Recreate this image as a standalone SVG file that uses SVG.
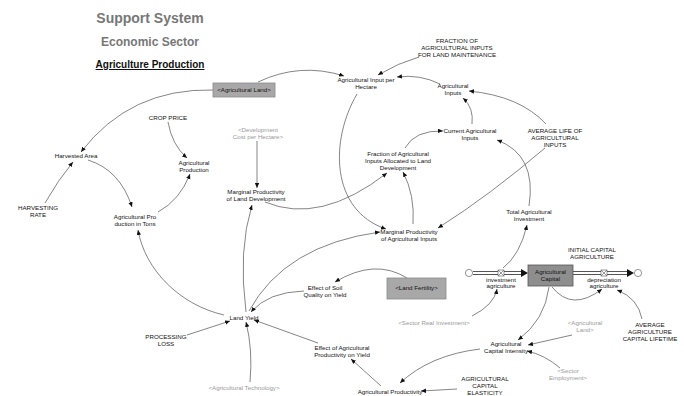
<svg xmlns="http://www.w3.org/2000/svg" width="684" height="396" viewBox="0 0 684 396">
<style>
text{font-family:"Liberation Sans",Arial,sans-serif;font-size:6.2px;fill:#111;text-anchor:middle}
.g text,text.g{fill:#999}
.t1{font-size:14px;font-weight:bold;fill:#777}
.t2{font-size:12px;font-weight:bold;fill:#777}
.t3{font-size:10px;font-weight:bold;fill:#111;text-decoration:underline}
.c path{fill:none;stroke:#666;stroke-width:0.8;marker-end:url(#ah)}
.box{fill:#a8a8a8;stroke:#8a8a8a;stroke-width:0.8}
.pipeo{stroke:#555;stroke-width:4.2;fill:none}
.pipei{stroke:#fff;stroke-width:2;fill:none}
</style>
<defs>
<marker id="ah" markerUnits="userSpaceOnUse" markerWidth="6" markerHeight="5" refX="5" refY="2.2" orient="auto">
<path d="M0,0 L5,2.2 L0,4.4 z" fill="#111"/>
</marker>
</defs>
<rect width="684" height="396" fill="#fff"/>

<g id="titles">
<text class="t1" x="150" y="23">Support System</text>
<text class="t2" x="150" y="46">Economic Sector</text>
<text class="t3" x="150" y="68">Agriculture Production</text>
</g>

<g id="connectors" class="c">
<path d="M258,82 Q300,62 344,76"/>
<path d="M213,90 Q130,88 81,152"/>
<path d="M419,57 Q398,63 378,75"/>
<path d="M440,84 Q420,74 397,77"/>
<path d="M472,124 Q474,108 463,98"/>
<path d="M546,124 Q520,96 469,91"/>
<path d="M545,148 Q490,195 438,228"/>
<path d="M529,206 Q537,155 497,140"/>
<path d="M503,268 Q520,255 527,225"/>
<path d="M405,148 Q415,130 443,131"/>
<path d="M357,94 C330,140 330,210 386,229"/>
<path d="M265,202 Q320,225 387,173"/>
<path d="M413,224 Q415,195 403,172"/>
<path d="M257,141 L257,188"/>
<path d="M246,312 Q238,250 252,205"/>
<path d="M249,311 Q285,245 380,232"/>
<path d="M407,278 Q375,258 335,282"/>
<path d="M304,291 Q268,292 251,312"/>
<path d="M224,315 C180,305 145,270 138,230"/>
<path d="M187,335 L230,321"/>
<path d="M318,343 L254,320"/>
<path d="M250,382 Q253,350 246,322"/>
<path d="M381,386 L351,359"/>
<path d="M480,349 Q430,355 400,383"/>
<path d="M457,389 L421,391"/>
<path d="M549,287 Q545,320 518,340"/>
<path d="M572,335 L528,345"/>
<path d="M560,368 Q545,355 527,351"/>
<path d="M552,287 Q572,312 602,289"/>
<path d="M642,319 Q638,298 617,290"/>
<path d="M472,316 Q494,305 497,289"/>
<path d="M168,122 Q172,145 187,158"/>
<path d="M88,160 Q120,170 132,207"/>
<path d="M45,203 Q58,180 73,162"/>
<path d="M158,212 Q180,200 190,174"/>
</g>

<g id="flows">
<path class="pipeo" d="M473,273 L522,273"/>
<path class="pipei" d="M473,273 L522,273"/>
<path d="M521,269 L528,273 L521,277 z" fill="#111"/>
<path class="pipeo" d="M573,273 L628,273"/>
<path class="pipei" d="M573,273 L628,273"/>
<path d="M627,269 L634,273 L627,277 z" fill="#111"/>
<circle cx="469" cy="273" r="3.6" fill="#fff" stroke="#777" stroke-width="0.8"/>
<circle cx="638" cy="273" r="3.6" fill="#fff" stroke="#777" stroke-width="0.8"/>
</g>

<g id="n-agland-ghost"><rect class="box" x="213" y="83" width="62" height="14"/><text x="244" y="92">&lt;Agricultural Land&gt;</text></g>
<g id="n-input-per-ha"><text x="366" y="82">Agricultural Input per</text><text x="366" y="89">Hectare</text></g>
<g id="n-fraction-maint"><text x="457" y="43">FRACTION OF</text><text x="457" y="50">AGRICULTURAL INPUTS</text><text x="457" y="57">FOR LAND MAINTENANCE</text></g>
<g id="n-ag-inputs"><text x="453" y="88">Agricultural</text><text x="453" y="95">Inputs</text></g>
<g id="n-current-inputs"><text x="470" y="133">Current Agricultural</text><text x="470" y="140">Inputs</text></g>
<g id="n-avg-life"><text x="555" y="133">AVERAGE LIFE OF</text><text x="555" y="140">AGRICULTURAL</text><text x="555" y="147">INPUTS</text></g>
<g id="n-crop-price"><text x="168" y="120">CROP PRICE</text></g>
<g id="n-dev-cost" class="g"><text x="258" y="132">&lt;Development</text><text x="258" y="139">Cost per Hectare&gt;</text></g>
<g id="n-harvested"><text x="76" y="158">Harvested Area</text></g>
<g id="n-ag-production"><text x="194" y="165">Agricultural</text><text x="194" y="172">Production</text></g>
<g id="n-mp-land-dev"><text x="256" y="194">Marginal Productivity</text><text x="256" y="201">of Land Development</text></g>
<g id="n-fraction-alloc"><text x="398" y="156">Fraction of Agricultural</text><text x="398" y="163">Inputs Allocated to Land</text><text x="398" y="170">Development</text></g>
<g id="n-harv-rate"><text x="38" y="210">HARVESTING</text><text x="38" y="217">RATE</text></g>
<g id="n-prod-tons"><text x="135" y="219">Agricultural Pro</text><text x="135" y="226">duction in Tons</text></g>
<g id="n-mp-inputs"><text x="409" y="234">Marginal Productivity</text><text x="409" y="241">of Agricultural Inputs</text></g>
<g id="n-total-inv"><text x="529" y="214">Total Agricultural</text><text x="529" y="221">Investment</text></g>
<g id="n-init-cap"><text x="592" y="252">INITIAL CAPITAL</text><text x="592" y="259">AGRICULTURE</text></g>
<g id="n-ag-capital"><rect x="528" y="265" width="45" height="21" fill="#8e8e8e" stroke="#555" stroke-width="0.8"/><text x="550.5" y="274">Agricultural</text><text x="550.5" y="281">Capital</text></g>
<g id="n-inv-ag"><rect x="498" y="270" width="6" height="6" fill="#fff" stroke="#555" stroke-width="0.6"/><path d="M498,270 L504,276 M504,270 L498,276" stroke="#555" stroke-width="0.6"/><text x="501" y="282">investment</text><text x="501" y="288">agriculture</text></g>
<g id="n-dep-ag"><rect x="601" y="270" width="6" height="6" fill="#fff" stroke="#555" stroke-width="0.6"/><path d="M601,270 L607,276 M607,270 L601,276" stroke="#555" stroke-width="0.6"/><text x="604" y="282">depreciation</text><text x="604" y="288">agriculture</text></g>
<g id="n-land-fert"><rect class="box" x="387" y="278" width="59" height="21"/><text x="416.5" y="290">&lt;Land Fertility&gt;</text></g>
<g id="n-soil-eff"><text x="325" y="290">Effect of Soil</text><text x="325" y="297">Quality on Yield</text></g>
<g id="n-land-yield"><text x="244" y="320">Land Yield</text></g>
<g id="n-sector-inv" class="g"><text x="434" y="325">&lt;Sector Real Investment&gt;</text></g>
<g id="n-proc-loss"><text x="166" y="339">PROCESSING</text><text x="166" y="346">LOSS</text></g>
<g id="n-eff-prod"><text x="342" y="350">Effect of Agricultural</text><text x="342" y="357">Productivity on Yield</text></g>
<g id="n-agland2" class="g"><text x="585" y="325">&lt;Agricultural</text><text x="585" y="332">Land&gt;</text></g>
<g id="n-avg-cap-life"><text x="650" y="327">AVERAGE</text><text x="650" y="334">AGRICULTURE</text><text x="650" y="341">CAPITAL LIFETIME</text></g>
<g id="n-cap-intensity"><text x="506" y="346">Agricultural</text><text x="506" y="353">Capital Intensity</text></g>
<g id="n-sector-emp" class="g"><text x="568" y="373">&lt;Sector</text><text x="568" y="380">Employment&gt;</text></g>
<g id="n-cap-elast"><text x="485" y="381">AGRICULTURAL</text><text x="485" y="388">CAPITAL</text><text x="485" y="395">ELASTICITY</text></g>
<g id="n-ag-tech" class="g"><text x="244" y="390">&lt;Agricultural Technology&gt;</text></g>
<g id="n-ag-productivity"><text x="390" y="394.3">Agricultural Productivity</text></g>
</svg>
